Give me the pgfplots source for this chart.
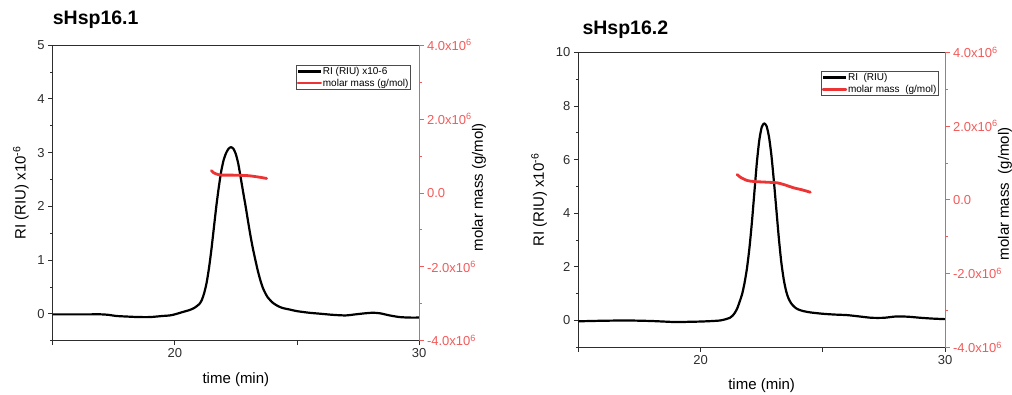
\documentclass[border=0pt]{standalone}
\usepackage{pgfplots}
\pgfplotsset{compat=1.18}
\usepackage{fontspec}
\setmainfont{Liberation Sans}
\definecolor{axred}{RGB}{242,90,90}
\definecolor{curvered}{RGB}{236,52,52}
\definecolor{tickgray}{RGB}{45,45,45}

\pgfplotstableread{
t ri
15.0 -0.01
15.5 -0.01
16.0 -0.01
16.5 -0.01
17.0 -0.01
17.3 -0.02
17.6 -0.04
18.0 -0.05
18.5 -0.06
19.0 -0.06
19.5 -0.04
19.8 -0.03
20.0 -0.01
20.3 0.03
20.6 0.07
20.8 0.11
21.0 0.18
21.1 0.25
21.2 0.38
21.3 0.57
21.4 0.85
21.5 1.20
21.6 1.60
21.7 2.00
21.8 2.35
21.9 2.65
22.0 2.86
22.1 2.99
22.2 3.07
22.3 3.10
22.4 3.07
22.5 2.97
22.6 2.79
22.7 2.53
22.8 2.26
22.9 2.00
23.0 1.72
23.1 1.45
23.2 1.21
23.3 1.00
23.4 0.80
23.5 0.63
23.6 0.49
23.7 0.39
23.8 0.31
24.0 0.21
24.2 0.15
24.4 0.11
24.7 0.08
25.0 0.05
25.5 0.02
26.0 0.00
26.5 -0.02
27.0 -0.03
27.4 -0.01
27.8 0.01
28.1 0.02
28.4 0.01
28.8 -0.03
29.2 -0.06
29.6 -0.07
30.0 -0.07
}\riA

\pgfplotstableread{
t mm
21.50 600000
21.60 540000
21.75 500000
21.90 480000
22.30 480000
22.66 475000
23.00 465000
23.20 450000
23.50 420000
23.76 390000
}\mmA

\pgfplotstableread{
t ri
15.0 -0.03
15.5 -0.02
16.0 -0.01
17.0 0.00
18.0 -0.02
19.0 -0.06
19.5 -0.05
20.0 -0.04
20.5 -0.02
20.8 0.00
21.0 0.04
21.2 0.10
21.3 0.17
21.4 0.28
21.5 0.45
21.6 0.70
21.7 0.98
21.8 1.40
21.9 1.95
22.0 2.70
22.1 3.65
22.2 4.75
22.3 5.85
22.4 6.70
22.5 7.20
22.6 7.35
22.7 7.25
22.8 6.85
22.9 6.15
23.0 5.20
23.1 4.15
23.2 3.10
23.3 2.20
23.4 1.55
23.5 1.10
23.6 0.82
23.7 0.65
23.8 0.54
23.9 0.46
24.0 0.41
24.2 0.35
24.5 0.30
25.0 0.25
25.5 0.22
26.0 0.20
26.5 0.15
27.0 0.10
27.5 0.10
28.0 0.15
28.5 0.14
29.0 0.10
29.5 0.07
30.0 0.05
}\riB

\pgfplotstableread{
t mm
21.50 686000
21.63 612000
21.91 523000
22.18 496000
22.72 477000
23.13 461000
23.40 415000
23.81 325000
24.15 271000
24.49 206000
}\mmB

\pgfplotsset{
  base/.style={
    scale only axis, xmin=15, xmax=30,
    axis line style={-, line width=0.7pt},
    /pgf/number format/assume math mode=true,
    tick label style={font=\fontsize{13}{15}\selectfont, text=tickgray},
    label style={font=\fontsize{15}{18}\selectfont},
    major tick length=4.5pt, minor tick length=2.5pt,
    tick style={line width=0.7pt},
    tick align=outside,
  },
  prim/.style={
    base,
    axis x line*=bottom, axis y line*=left,
    x axis line style={tickgray}, y axis line style={tickgray},
    tick style={tickgray},
    xtick={15,20,25,30}, xticklabels={,20,,30},
    xlabel={time (min)},
    xlabel style={at={(axis description cs:0.5,-0.13)}, anchor=center},
  },
  sec/.style={
    base,
    axis x line*=top, axis y line*=right,
    x axis line style={tickgray}, y axis line style={axred},
    xtick=\empty,
    tick style={axred},
    yticklabel style={text=axred},
    ymin=-4e6, ymax=4e6, scaled y ticks=false,
    ytick={-4e6,-2e6,0,2e6,4e6},
    yticklabels={-4.0x10\textsuperscript{6},-2.0x10\textsuperscript{6},0.0,2.0x10\textsuperscript{6},4.0x10\textsuperscript{6}},
    minor ytick={-3e6,-1e6,1e6,3e6},
    legend cell align=left,
    legend image code/.code={\draw[##1, line width=2.4pt] (0pt,0pt) -- (23pt,0pt);},
  },
}

\begin{document}
\begin{tikzpicture}
\path[use as bounding box] (0,0) rectangle (1012pt,394pt);

% ---------------- Panel 1 ----------------
\node[anchor=base west, font=\fontsize{19.5}{22}\selectfont\bfseries] at (49.3pt,369.7pt) {sHsp16.1};
\begin{axis}[prim, at={(52.7pt,53.3pt)}, anchor=south west, width=366.3pt, height=295.7pt,
  ymin=-0.5, ymax=5, ytick={0,1,2,3,4,5}, minor ytick={-0.5,0.5,1.5,2.5,3.5,4.5},
  ylabel={RI (RIU) x10\textsuperscript{-6}},
  ylabel style={at={(axis description cs:-0.087,0.4995)}, anchor=center}]
\addplot[black, line width=2.2pt, line join=round, smooth, tension=0.4] table[x=t, y=ri] {\riA};
\end{axis}
\begin{axis}[sec, at={(52.7pt,53.3pt)}, anchor=south west, width=366.3pt, height=295.7pt,
  ylabel={molar mass (g/mol)},
  ylabel style={at={(axis description cs:1.164,0.519)}, anchor=center},
  legend style={at={(0.663,0.932)}, anchor=north west, draw=black!70, line width=0.7pt,
    fill=white, font=\fontsize{10}{12}\selectfont, inner sep=0.8pt, row sep=1.5pt,
    nodes={inner sep=0.8pt}}]
\addlegendimage{black}
\addlegendentry{RI (RIU) x10-6}
\addplot[curvered, line width=2.8pt, line join=round, line cap=round, smooth, tension=0.4] table[x=t, y=mm] {\mmA};
\addlegendentry{molar mass (g/mol)}
\end{axis}

% ---------------- Panel 2 ----------------
\node[anchor=base west, font=\fontsize{19.5}{22}\selectfont\bfseries] at (579pt,359pt) {sHsp16.2};
\begin{axis}[prim, at={(578.3pt,46.7pt)}, anchor=south west, width=366.7pt, height=295pt,
  ymin=-1, ymax=10, ytick={0,2,4,6,8,10}, minor ytick={-1,1,3,5,7,9},
  ylabel={RI (RIU) x10\textsuperscript{-6}},
  ylabel style={at={(axis description cs:-0.107,0.499)}, anchor=center}]
\addplot[black, line width=2.2pt, line join=round, smooth, tension=0.4] table[x=t, y=ri] {\riB};
\end{axis}
\begin{axis}[sec, at={(578.3pt,46.7pt)}, anchor=south west, width=366.7pt, height=295pt,
  ylabel={molar mass~~(g/mol)},
  ylabel style={at={(axis description cs:1.1636,0.52)}, anchor=center},
  legend style={at={(0.661,0.936)}, anchor=north west, draw=black!70, line width=0.7pt,
    fill=white, font=\fontsize{10}{12}\selectfont, inner sep=0.8pt, row sep=1.5pt,
    nodes={inner sep=0.8pt}}]
\addlegendimage{black}
\addlegendentry{RI~~(RIU)}
\addplot[curvered, line width=2.8pt, line join=round, line cap=round, smooth, tension=0.4] table[x=t, y=mm] {\mmB};
\addlegendentry{molar mass~~(g/mol)}
\end{axis}
\end{tikzpicture}
\end{document}
